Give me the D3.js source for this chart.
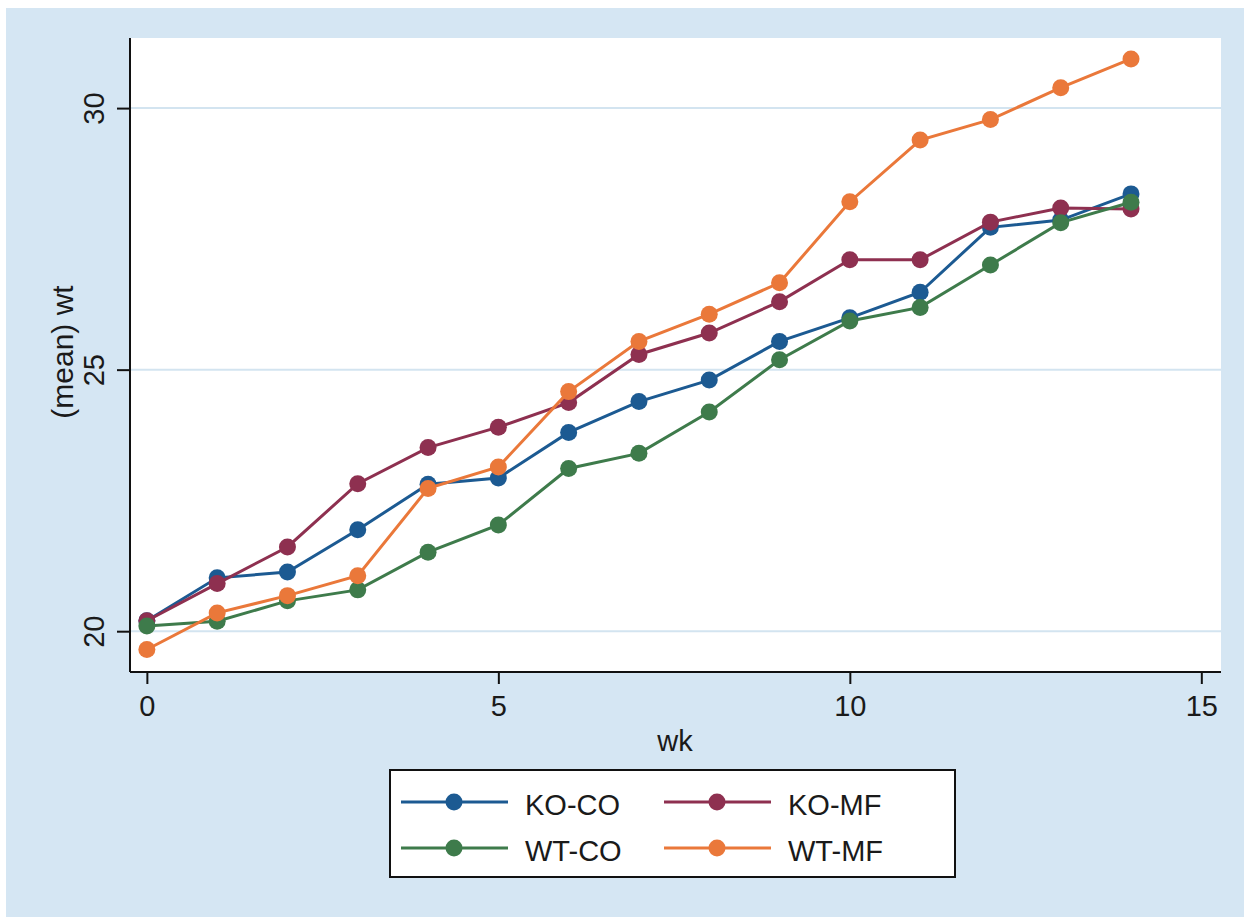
<!DOCTYPE html>
<html>
<head>
<meta charset="utf-8">
<script src="https://cdn.jsdelivr.net/npm/d3@7"></script>
<style>
  html, body { margin: 0; padding: 0; background: #fff; }
  svg { display: block; font-family: "Liberation Sans", Arial, sans-serif; }
</style>
</head>
<body>
<div id="chart"></div>
<script>
const w = 1244;
const h = 917;

// weeks 0..14
const weeks = [0, 1, 2, 3, 4, 5, 6, 7, 8, 9, 10, 11, 12, 13, 14];
const koCo = [20.2, 21.02, 21.13, 21.94, 22.81, 22.93, 23.8, 24.39, 24.8, 25.54, 25.99, 26.48, 27.72, 27.86, 28.36];
const koMf = [20.2, 20.91, 21.61, 22.82, 23.51, 23.9, 24.37, 25.29, 25.7, 26.3, 27.1, 27.1, 27.82, 28.09, 28.07];
const wtCo = [20.1, 20.19, 20.58, 20.79, 21.51, 22.03, 23.11, 23.4, 24.19, 25.19, 25.93, 26.19, 27.0, 27.81, 28.2];
const wtMf = [19.65, 20.35, 20.68, 21.06, 22.73, 23.14, 24.58, 25.54, 26.06, 26.66, 28.21, 29.39, 29.78, 30.39, 30.94];

const seriesNames = ["KO-CO", "KO-MF", "WT-CO", "WT-MF"];
const seriesColors = ["#1c5a92", "#8e3050", "#3e7b4b", "#ea783a"];
const xTicks = [0, 5, 10, 15];
const yTicks = [20, 25, 30];

const series = [
  { name: seriesNames[0], color: seriesColors[0], values: koCo },
  { name: seriesNames[1], color: seriesColors[1], values: koMf },
  { name: seriesNames[2], color: seriesColors[2], values: wtCo },
  { name: seriesNames[3], color: seriesColors[3], values: wtMf }
];

const plot = { left: 130, right: 1221, top: 38, bottom: 672 };

const svg = d3.select("#chart")
  .append("svg")
  .attr("width", w)
  .attr("height", h);

// scanned page background
svg.append("rect")
  .attr("x", 6).attr("y", 8)
  .attr("width", w - 6).attr("height", h - 8)
  .attr("fill", "#d5e6f3");

svg.append("rect")
  .attr("x", plot.left).attr("y", plot.top)
  .attr("width", plot.right - plot.left)
  .attr("height", plot.bottom - plot.top)
  .attr("fill", "#ffffff");

const xScale = d3.scaleLinear()
  .domain([-0.24, 15.28])
  .range([plot.left, plot.right]);

const yScale = d3.scaleLinear()
  .domain([19.22, 31.34])
  .range([plot.bottom, plot.top]);

// gridlines
svg.append("g")
  .selectAll("line")
  .data(yTicks)
  .enter()
  .append("line")
  .attr("x1", plot.left)
  .attr("x2", plot.right)
  .attr("y1", d => yScale(d))
  .attr("y2", d => yScale(d))
  .attr("stroke", "#d3e4f0")
  .attr("stroke-width", 2);

// axes
const yAxis = d3.axisLeft(yScale).tickValues(yTicks).tickSize(13);
const xAxis = d3.axisBottom(xScale).tickValues(xTicks).tickSize(12).tickPadding(11);

const gy = svg.append("g")
  .attr("transform", "translate(" + plot.left + ",0)")
  .call(yAxis);
gy.select(".domain").attr("d", `M0,${plot.top}V${plot.bottom}`).attr("stroke", "#111").attr("stroke-width", 2);
gy.selectAll(".tick line").attr("stroke", "#111").attr("stroke-width", 2);
gy.selectAll(".tick text")
  .attr("font-size", 29)
  .attr("fill", "#1a1a1a")
  .attr("text-anchor", "middle")
  .attr("dy", 0)
  .attr("x", 0)
  .attr("y", 0)
  .attr("transform", "translate(-26,0) rotate(-90)");

const gx = svg.append("g")
  .attr("transform", "translate(0," + plot.bottom + ")")
  .call(xAxis);
gx.select(".domain").attr("d", `M${plot.left},0H${plot.right}`).attr("stroke", "#111").attr("stroke-width", 2);
gx.selectAll(".tick line").attr("stroke", "#111").attr("stroke-width", 2);
gx.selectAll(".tick text").attr("font-size", 29).attr("fill", "#1a1a1a");

// axis titles
svg.append("text")
  .attr("x", 675)
  .attr("y", 751)
  .attr("text-anchor", "middle")
  .attr("font-size", 29)
  .attr("fill", "#1a1a1a")
  .text("wk");

svg.append("text")
  .attr("transform", "translate(73,352) rotate(-90)")
  .attr("text-anchor", "middle")
  .attr("font-size", 30)
  .attr("fill", "#1a1a1a")
  .text("(mean) wt");

// lines + markers
const line = d3.line()
  .x((d, i) => xScale(weeks[i]))
  .y(d => yScale(d));

const groups = svg.append("g")
  .selectAll("g")
  .data(series)
  .enter()
  .append("g");

groups.append("path")
  .attr("d", d => line(d.values))
  .attr("fill", "none")
  .attr("stroke", d => d.color)
  .attr("stroke-width", 3);

groups.selectAll("circle")
  .data(d => d.values.map((v, i) => ({ v: v, i: i, color: d.color })))
  .enter()
  .append("circle")
  .attr("cx", d => xScale(weeks[d.i]))
  .attr("cy", d => yScale(d.v))
  .attr("r", 8.5)
  .attr("fill", d => d.color);

// legend
const legend = svg.append("g").attr("transform", "translate(390,770)");
legend.append("rect")
  .attr("x", 0).attr("y", 0)
  .attr("width", 565).attr("height", 107)
  .attr("fill", "#ffffff")
  .attr("stroke", "#111")
  .attr("stroke-width", 2);

const items = legend.selectAll("g.item")
  .data(series)
  .enter()
  .append("g")
  .attr("class", "item")
  .attr("transform", (d, i) => "translate(" + (i % 2 === 0 ? 11 : 274) + "," + (i < 2 ? 32 : 78) + ")");

items.append("line")
  .attr("x1", 0).attr("x2", 107)
  .attr("y1", 0).attr("y2", 0)
  .attr("stroke", d => d.color)
  .attr("stroke-width", 3);
items.append("circle")
  .attr("cx", 53).attr("cy", 0).attr("r", 8.5)
  .attr("fill", d => d.color);
items.append("text")
  .attr("x", 124)
  .attr("y", 13)
  .attr("font-size", 29)
  .attr("fill", "#1a1a1a")
  .text(d => d.name);
</script>
</body>
</html>
